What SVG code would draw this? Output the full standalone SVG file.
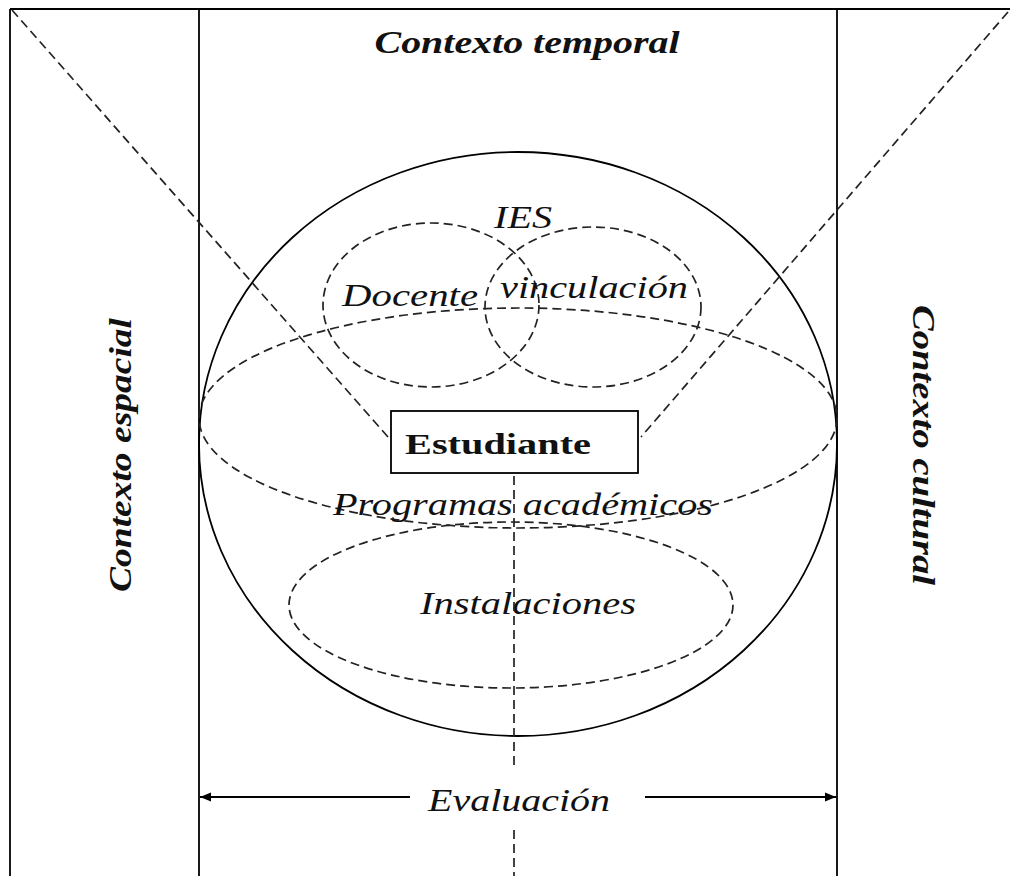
<svg xmlns="http://www.w3.org/2000/svg" width="1010" height="876" viewBox="0 0 1010 876">
<style>
.solid{fill:none;stroke:#000;stroke-width:1.8}
.dash{fill:none;stroke:#222;stroke-width:1.7;stroke-dasharray:9 5}
.t{font-family:"Liberation Serif","Times New Roman",serif;font-style:italic;fill:#111}
.b{font-weight:bold}
</style>
<defs>
<marker id="ah" viewBox="0 0 10 10" refX="10" refY="5" markerWidth="11" markerHeight="11" markerUnits="userSpaceOnUse" orient="auto-start-reverse">
<path d="M0,1 L10,5 L0,9 z" fill="#000"/>
</marker>
</defs>
<rect width="1010" height="876" fill="#fff"/>
<g id="frame">
<line class="solid" x1="10" y1="9" x2="1010" y2="9"/>
<line class="solid" x1="10" y1="9" x2="10" y2="876"/>
<line class="solid" x1="199" y1="9" x2="199" y2="876"/>
<line class="solid" x1="837" y1="9" x2="837" y2="876"/>
</g>
<g id="sphere">
<ellipse class="solid" cx="518" cy="444" rx="319" ry="292"/>
</g>
<g id="programas">
<ellipse class="dash" cx="518" cy="418" rx="319" ry="110"/>
<text class="t" x="523" y="515" font-size="32" text-anchor="middle" textLength="380" lengthAdjust="spacingAndGlyphs">Programas académicos</text>
</g>
<g id="docente">
<ellipse class="dash" cx="431" cy="305" rx="108" ry="82"/>
<text class="t" x="410" y="306" font-size="32" text-anchor="middle" textLength="136" lengthAdjust="spacingAndGlyphs">Docente</text>
</g>
<g id="vinculacion">
<ellipse class="dash" cx="593" cy="307" rx="108" ry="80"/>
<text class="t" x="594" y="298" font-size="32" text-anchor="middle" textLength="188" lengthAdjust="spacingAndGlyphs">vinculación</text>
</g>
<g id="ies">
<text class="t" x="523" y="228" font-size="32" text-anchor="middle" textLength="58" lengthAdjust="spacingAndGlyphs">IES</text>
</g>
<g id="instalaciones">
<ellipse class="dash" cx="511" cy="605" rx="222" ry="83"/>
<text class="t" x="528" y="614" font-size="32" text-anchor="middle" textLength="216" lengthAdjust="spacingAndGlyphs">Instalaciones</text>
</g>
<g id="estudiante">
<rect x="391" y="411" width="247" height="62" fill="#fff" stroke="#000" stroke-width="1.8"/>
<text x="498" y="454" font-family="Liberation Serif,'Times New Roman',serif" font-weight="bold" font-size="30" text-anchor="middle" textLength="186" lengthAdjust="spacingAndGlyphs" fill="#111">Estudiante</text>
</g>
<g id="temporal">
<text class="t b" x="527" y="53" font-size="32" text-anchor="middle" textLength="305" lengthAdjust="spacingAndGlyphs">Contexto temporal</text>
</g>
<g id="espacial">
<text class="t b" transform="translate(131,455) rotate(-90)" x="0" y="0" font-size="32" text-anchor="middle" textLength="274" lengthAdjust="spacingAndGlyphs">Contexto espacial</text>
</g>
<g id="cultural">
<text class="t b" transform="translate(913,445) rotate(90)" x="0" y="0" font-size="32" text-anchor="middle" textLength="280" lengthAdjust="spacingAndGlyphs">Contexto cultural</text>
</g>
<g id="evaluacion">
<text class="t" x="519" y="811" font-size="32" text-anchor="middle" textLength="182" lengthAdjust="spacingAndGlyphs">Evaluación</text>
</g>
<g id="connectors">
<line class="dash" x1="12" y1="10" x2="388" y2="437"/>
<line class="dash" x1="1008" y1="12" x2="641" y2="437"/>
<line class="dash" x1="514" y1="476" x2="514" y2="770"/>
<line class="dash" x1="514" y1="830" x2="514" y2="876"/>
<line class="solid" x1="410" y1="797" x2="200" y2="797" marker-end="url(#ah)"/>
<line class="solid" x1="645" y1="797" x2="836" y2="797" marker-end="url(#ah)"/>
</g>
</svg>
